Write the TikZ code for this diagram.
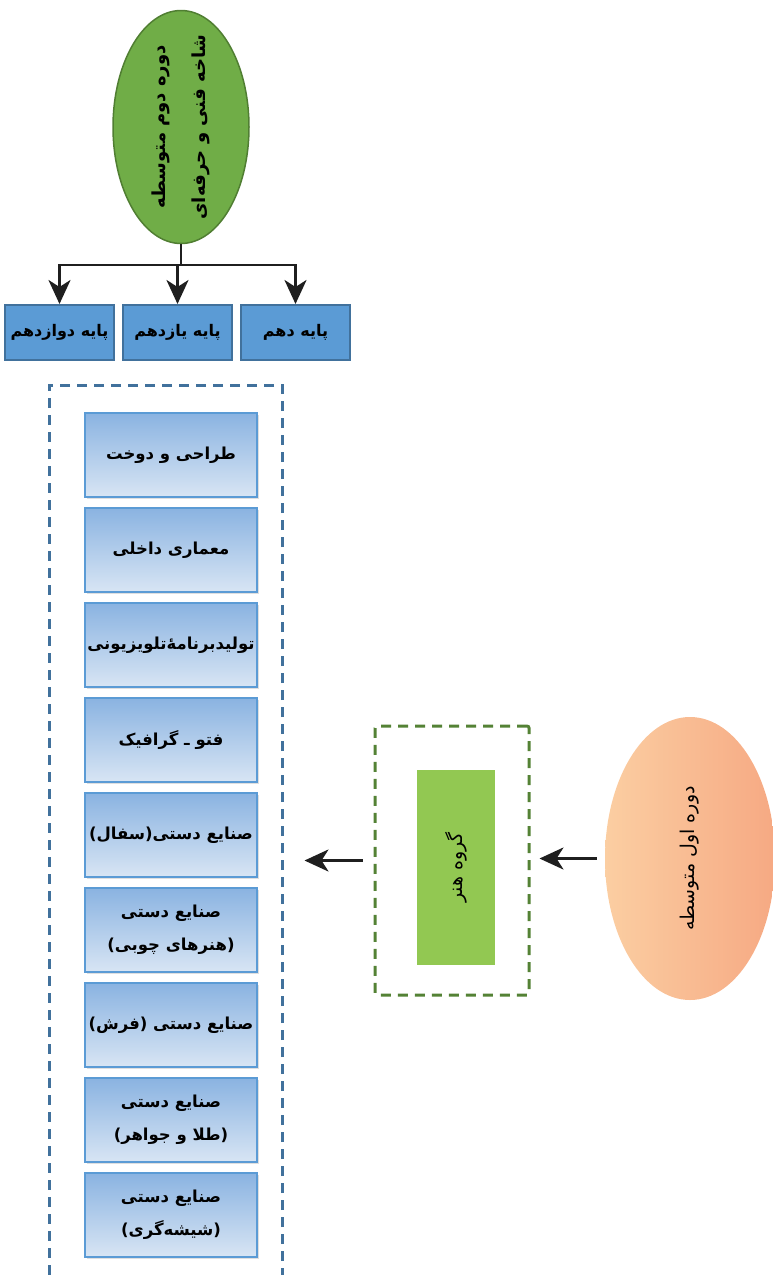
\documentclass[tikz,border=0pt]{standalone}
\usepackage{fontspec}
\usepackage{xcolor}
\usepackage{tikz}
\usetikzlibrary{shapes.geometric, arrows.meta, positioning, shadows}
\TeXXeTstate=1
\newfontfamily\arabicfont[Script=Arabic]{DejaVu Sans}
\newcommand{\fa}[1]{\beginR #1\endR}
\definecolor{stagegreen}{HTML}{70AD47}
\definecolor{stageedge}{HTML}{507E32}
\definecolor{gradeblue}{HTML}{5B9BD5}
\definecolor{gradeedge}{HTML}{41719C}
\definecolor{fieldtop}{HTML}{8AB3E1}
\definecolor{fieldbottom}{HTML}{D8E5F4}
\definecolor{fieldedge}{HTML}{5B9BD5}
\definecolor{listedge}{HTML}{41719C}
\definecolor{artedge}{HTML}{548235}
\definecolor{artgreen}{HTML}{92C852}
\definecolor{earlylight}{HTML}{FBCEA2}
\definecolor{earlydark}{HTML}{F6A983}
\tikzstyle{stage} = [ellipse, rotate=90, minimum width=233pt, minimum height=136pt, inner xsep=-40pt, inner ysep=-10pt, align=center, text centered, draw=stageedge, line width=1.5pt, fill=stagegreen, font=\arabicfont\bfseries\fontsize{18}{40}\selectfont]
\tikzstyle{grade} = [rectangle, minimum width=109pt, minimum height=55pt, inner sep=0pt, text centered, draw=gradeedge, line width=2pt, fill=gradeblue, font=\arabicfont\bfseries\fontsize{16}{18}\selectfont]
\tikzstyle{field} = [rectangle, minimum width=172pt, minimum height=84pt, inner sep=0pt, align=center, text centered, draw=fieldedge, line width=2pt, top color=fieldtop, bottom color=fieldbottom, drop shadow={shadow xshift=2pt, shadow yshift=-2pt, opacity=0.25}, font=\arabicfont\bfseries\fontsize{16.5}{33}\selectfont]
\tikzstyle{listbox} = [rectangle, minimum width=233pt, minimum height=915pt, draw=listedge, line width=3pt, dash pattern=on 10pt off 7pt]
\tikzstyle{artbox} = [rectangle, rounded corners=2pt, minimum width=154pt, minimum height=269pt, draw=artedge, line width=3pt, dash pattern=on 10pt off 7pt]
\tikzstyle{group} = [rectangle, rotate=90, minimum width=195pt, minimum height=78pt, inner sep=0pt, text centered, fill=artgreen, font=\arabicfont\fontsize{19}{22}\selectfont]
\tikzstyle{first} = [ellipse, rotate=90, minimum width=283pt, minimum height=170pt, inner sep=0pt, text centered, left color=earlylight, right color=earlydark, font=\arabicfont\fontsize{19}{22}\selectfont]
\tikzstyle{line} = [line width=2.8pt, black!88]
\tikzstyle{arrow} = [line width=2.8pt, black!88, -{Stealth[length=24pt, width=22pt, inset=7pt]}]

\begin{document}
\begin{tikzpicture}[x=1pt, y=1pt, node distance=95pt]
	\useasboundingbox (0,0) rectangle (773,-1275);
	
	\node (second) [stage] at (181,-127) {\fa{دوره دوم متوسطه}\\\fa{شاخه فنی و حرفه‌ای}};
	\node (p10) [grade] at (295.5,-332.5) {\fa{پایه دهم}};
	\node (p11) [grade, left=7pt of p10] {\fa{پایه یازدهم}};
	\node (p12) [grade, left=7pt of p11] {\fa{پایه دوازدهم}};
	
	\coordinate (split) at (181,-265);
	\draw [line] (second) -- (split);
	\draw [arrow] (split) -| (p10.north);
	\draw [arrow] (split) -- (split -| p11.north) -- (p11.north);
	\draw [arrow] (split) -| (p12.north);
	
	\node (listframe) [listbox] at (165.5,-842.5) {};
	\node (f1) [field] at (171,-455) {\fa{طراحی و دوخت}};
	\node (f2) [field, below of = f1] {\fa{معماری داخلی}};
	\node (f3) [field, below of = f2] {\fa{تولیدبرنامهٔ‌تلویزیونی}};
	\node (f4) [field, below of = f3] {\fa{فتو ـ گرافیک}};
	\node (f5) [field, below of = f4] {\fa{صنایع دستی(سفال)}};
	\node (f6) [field, below of = f5] {\fa{صنایع دستی}\\\fa{(هنرهای چوبی)}};
	\node (f7) [field, below of = f6] {\fa{صنایع دستی (فرش)}};
	\node (f8) [field, below of = f7] {\fa{صنایع دستی}\\\fa{(طلا و جواهر)}};
	\node (f9) [field, below of = f8] {\fa{صنایع دستی}\\\fa{(شیشه‌گری)}};
	
	\node (artframe) [artbox] at (452,-860.5) {};
	\node (art) [group] at (456,-867.5) {\fa{گروه هنر}};
	\node (early) [first] at (690,-858.5) {\fa{دوره اول متوسطه}};
	
	\draw [arrow, shorten <=8pt, shorten >=9pt] (early) -- (early -| artframe.east);
	\draw [arrow, shorten <=11pt, shorten >=21pt] (artframe) -- (artframe -| listframe.east);
	
\end{tikzpicture}
\end{document}
